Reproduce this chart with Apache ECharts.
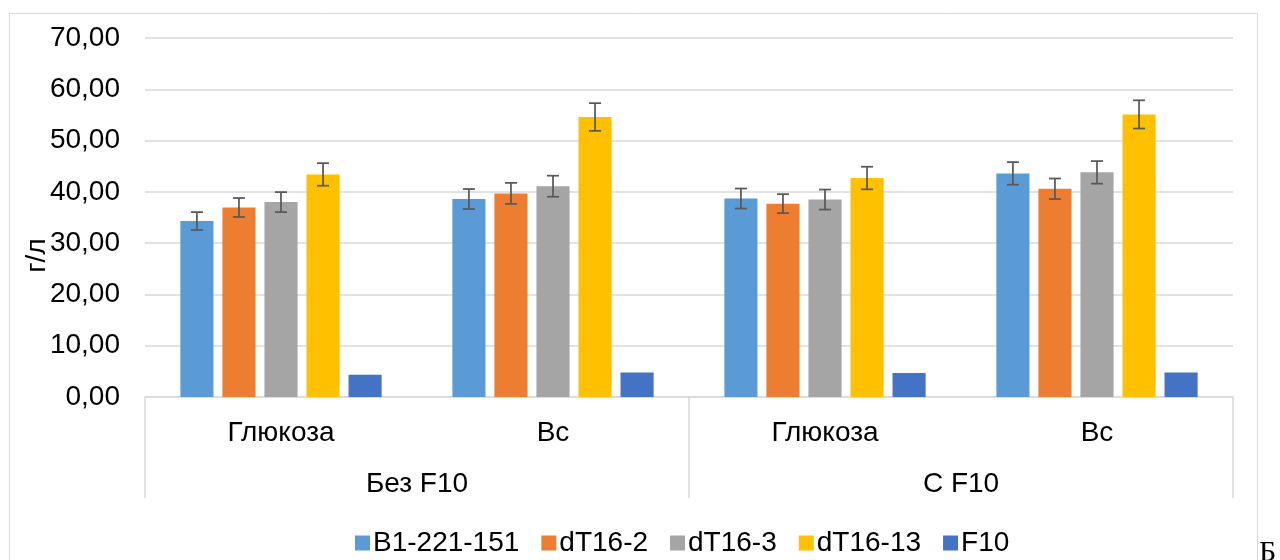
<!DOCTYPE html>
<html>
<head>
<meta charset="utf-8">
<script src="https://cdn.jsdelivr.net/npm/echarts@6/dist/echarts.min.js"></script>
<style>
  html, body { margin: 0; padding: 0; background: #fff; }
  #chart { width: 1280px; height: 560px; }
</style>
</head>
<body>
<div id="chart"></div>
<script>
// Substrate (inner level) and supplement (outer level) categories
const substrates = ['Глюкоза', 'Вс', 'Глюкоза', 'Вс'];
const supplements = ['Без F10', 'С F10'];

const strainNames = ['B1-221-151', 'dT16-2', 'dT16-3', 'dT16-13', 'F10'];
const strainColors = ['#5B9BD5', '#ED7D31', '#A5A5A5', '#FFC000', '#4472C4'];

// Mean concentration, g/l
const b1Values      = [34.3, 38.6, 38.7, 43.6];
const dT16_2Values  = [36.95, 39.7, 37.7, 40.6];
const dT16_3Values  = [38.0, 41.1, 38.5, 43.8];
const dT16_13Values = [43.4, 54.6, 42.7, 55.1];
const f10Values     = [4.35, 4.8, 4.7, 4.8];

// Standard deviation (no error bars for F10)
const b1Err      = [1.75, 1.95, 1.95, 2.2];
const dT16_2Err  = [1.85, 2.05, 1.85, 2.0];
const dT16_3Err  = [1.95, 2.05, 1.95, 2.2];
const dT16_13Err = [2.2, 2.7, 2.2, 2.75];

const yTicks = [0, 10, 20, 30, 40, 50, 60, 70];

const values = [b1Values, dT16_2Values, dT16_3Values, dT16_13Values, f10Values];
const errors = [b1Err, dT16_2Err, dT16_3Err, dT16_13Err, null];

const CATEGORY_GAP = 0.26;
const BAR_GAP = 0.27;
const N_BARS = strainNames.length;
const FONT = '"Liberation Sans", Arial, sans-serif';
const FONT_SIZE = 28;

const chart = echarts.init(document.getElementById('chart'), null, { renderer: 'canvas' });

const barSeries = strainNames.map((name, i) => ({
  name: name,
  type: 'bar',
  xAxisIndex: 0,
  data: values[i],
  itemStyle: { color: strainColors[i] },
  barGap: (BAR_GAP * 100) + '%',
  barCategoryGap: (CATEGORY_GAP * 100) + '%',
  emphasis: { disabled: true }
}));

// Error bars drawn on top of each bar, offset to that bar's slot in the group
function errorSeries(seriesIdx) {
  const data = values[seriesIdx].map((v, k) => [k, v, errors[seriesIdx][k]]);
  return {
    type: 'custom',
    name: strainNames[seriesIdx],
    xAxisIndex: 0,
    silent: true,
    z: 5,
    data: data,
    renderItem: function (params, api) {
      const cat = api.value(0);
      const mean = api.value(1);
      const err = api.value(2);
      const band = api.size([1, 0])[0];
      const used = band * (1 - CATEGORY_GAP);
      const bw = used / (N_BARS + (N_BARS - 1) * BAR_GAP);
      const step = bw * (1 + BAR_GAP);
      const center = api.coord([cat, mean])[0];
      const x = center - used / 2 + seriesIdx * step + bw / 2;
      const yHi = api.coord([cat, mean + err])[1];
      const yLo = api.coord([cat, mean - err])[1];
      const cap = 6;
      const style = { stroke: '#595959', lineWidth: 1.75, fill: null };
      return {
        type: 'group',
        children: [
          { type: 'line', shape: { x1: x, y1: yHi, x2: x, y2: yLo }, style: style },
          { type: 'line', shape: { x1: x - cap, y1: yHi, x2: x + cap, y2: yHi }, style: style },
          { type: 'line', shape: { x1: x - cap, y1: yLo, x2: x + cap, y2: yLo }, style: style }
        ]
      };
    }
  };
}

const option = {
  animation: false,
  backgroundColor: '#ffffff',
  textStyle: { fontFamily: FONT },
  grid: { left: 145, right: 47, top: 38, bottom: 163 },
  legend: {
    data: strainNames,
    left: 350,
    top: 524,
    icon: 'rect',
    itemWidth: 15,
    itemHeight: 15,
    itemGap: 22,
    textStyle: { fontSize: FONT_SIZE, color: '#000', fontFamily: FONT, padding: [0, 0, 0, -2] },
    selectedMode: false
  },
  xAxis: [
    {
      type: 'category',
      data: substrates,
      position: 'bottom',
      axisLine: { show: true, lineStyle: { color: '#d9d9d9', width: 1.5 } },
      axisTick: { show: false },
      axisLabel: { fontSize: FONT_SIZE, color: '#000', margin: 22, fontFamily: FONT },
      splitLine: { show: false }
    },
    {
      type: 'category',
      data: supplements,
      position: 'bottom',
      axisLine: { show: false },
      axisTick: { show: true, length: 101, lineStyle: { color: '#d9d9d9', width: 1.5 } },
      axisLabel: { fontSize: FONT_SIZE, color: '#000', margin: 73, fontFamily: FONT },
      splitLine: { show: false }
    }
  ],
  yAxis: {
    type: 'value',
    min: yTicks[0],
    max: yTicks[yTicks.length - 1],
    interval: yTicks[1] - yTicks[0],
    name: 'г/л',
    nameLocation: 'middle',
    nameRotate: 90,
    nameGap: 94,
    nameMoveOverlap: false,
    nameTextStyle: { fontSize: FONT_SIZE, color: '#000', fontFamily: FONT, padding: [0, 76, 0, 0] },
    axisLine: { show: false },
    axisTick: { show: false },
    axisLabel: {
      fontSize: FONT_SIZE,
      color: '#000',
      margin: 25,
      fontFamily: FONT,
      formatter: v => v.toFixed(2).replace('.', ',')
    },
    splitLine: { lineStyle: { color: '#d9d9d9', width: 1.5 } }
  },
  graphic: [
    {
      type: 'rect',
      silent: true,
      shape: { x: 9.5, y: 13.5, width: 1248, height: 600 },
      style: { fill: null, stroke: '#d9d9d9', lineWidth: 1 }
    },
    {
      type: 'text',
      silent: true,
      left: 1259,
      top: 538,
      style: { text: 'Б', fontSize: 30, fill: '#000', fontFamily: '"Liberation Serif", "Times New Roman", serif' }
    }
  ],
  series: barSeries.concat([0, 1, 2, 3].map(errorSeries))
};

chart.setOption(option);
</script>
</body>
</html>
